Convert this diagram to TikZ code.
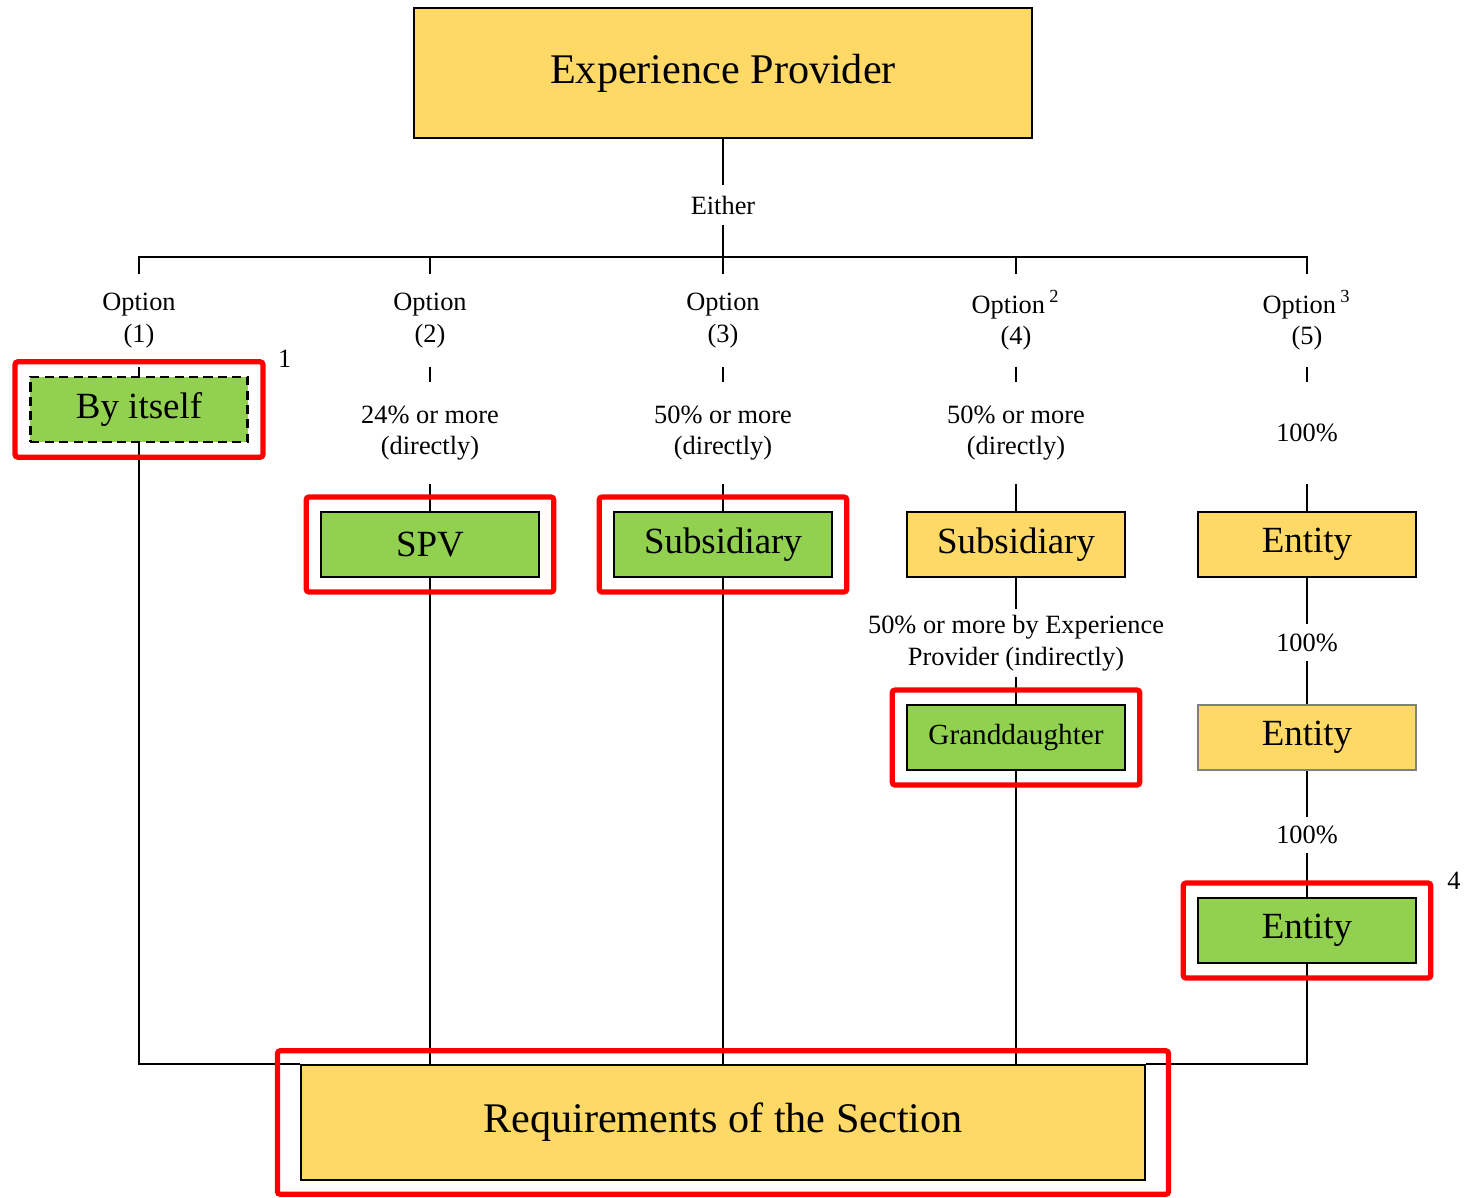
\documentclass[tikz,border=0pt]{standalone}
\usepackage{fontspec}
\setmainfont{Liberation Serif}
\usetikzlibrary{fit}
\definecolor{boxyellow}{RGB}{255,217,102}
\definecolor{boxgreen}{RGB}{146,208,80}
\tikzset{
  unit/.style={draw, line width=0.6pt, inner sep=0pt, minimum width=61.8pt, minimum height=18.4pt, font=\fontsize{10.5}{12}\selectfont},
  yel/.style={unit, fill=boxyellow},
  grn/.style={unit, fill=boxgreen},
  lbl/.style={inner sep=0pt, align=center, font=\fontsize{7.5}{9}\selectfont},
  hl/.style={draw=red, line width=1.5pt, rounded corners=0.8pt, inner sep=4pt},
  note/.style={inner sep=0pt, anchor=west, font=\fontsize{7.5}{9}\selectfont},
}
\begin{document}
\begin{tikzpicture}[x=0.01cm, y=-0.01cm, line width=0.5pt]
    \useasboundingbox (0,0) rectangle (1470,1197);
    % top
    \node[yel, minimum width=175.8pt, minimum height=36.9pt, font=\fontsize{12}{14}\selectfont] (ep) at (723,73) {Experience Provider};
    \node[lbl, minimum height=10.8pt] (either) at (723,205) {Either};
    \coordinate (bus) at (723,257);
    % options and shares
    \foreach \i/\x/\t in {1/139/{Option\\(1)},2/430/{Option\\(2)},3/723/{Option\\(3)},4/1016/{Option\,\textsuperscript{2}\\(4)},5/1307/{Option\,\textsuperscript{3}\\(5)}}{
        \node[lbl, minimum height=25.8pt] (o\i) at (\x,320.5) {\t};
    }
    \foreach \i/\x/\t in {2/430/{24\%\ or more\\(directly)},3/723/{50\%\ or more\\(directly)},4/1016/{50\%\ or more\\(directly)},5/1307/{100\%}}{
        \node[lbl, minimum height=28.6pt] (p\i) at (\x,433) {\t};
    }
    % boxes
    \node[grn, line width=0.7pt, dash pattern=on 2.6pt off 1.5pt] (self) at (139,409.5) {By itself};
    \node[grn] (spv) at (430,544.5) {SPV};
    \node[grn] (sub3) at (723,544.5) {Subsidiary};
    \node[yel] (sub4) at (1016,544.5) {Subsidiary};
    \node[yel] (ent1) at (1307,544.5) {Entity};
    \node[lbl, minimum height=19pt] (ind) at (1016,643) {50\%\ or more by Experience\\Provider (indirectly)};
    \node[grn, font=\fontsize{8.3}{10}\selectfont] (gd) at (1016,737.5) {Granddaughter};
    \node[lbl, minimum height=9.9pt] (q1) at (1307,642.5) {100\%};
    \node[yel, draw=gray] (ent2) at (1307,737.5) {Entity};
    \node[lbl, minimum height=9.6pt] (q2) at (1307,835) {100\%};
    \node[grn] (ent3) at (1307,930.5) {Entity};
    \node[yel, minimum width=239.8pt, minimum height=32.6pt, font=\fontsize{12}{14}\selectfont] (req) at (723,1122.5) {Requirements of the Section};
    % lines
    \draw (ep) -- (either);
    \draw (either) -- (bus);
    \draw (o1.north) -- (o1.north |- bus) -- (o5.north |- bus) -- (o5.north);
    \foreach \i in {2,3,4}{
        \draw (o\i.north) -- (o\i.north |- bus);
    }
    \draw (o1) -- (self);
    \foreach \i in {2,3,4,5}{
        \draw (o\i) -- (p\i);
    }
    \draw (p2) -- (spv);
    \draw (p3) -- (sub3);
    \draw (p4) -- (sub4);
    \draw (p5) -- (ent1);
    \draw (sub4) -- (ind);
    \draw (ind) -- (gd);
    \draw (ent1) -- (q1);
    \draw (q1) -- (ent2);
    \draw (ent2) -- (q2);
    \draw (q2) -- (ent3);
    \draw (self) |- (req.north west);
    \draw (ent3) |- (req.north east);
    \foreach \n in {spv,sub3,gd}{
        \draw (\n) -- (\n |- req.north);
    }
    % red frames
    \node[hl, fit=(self)] (h1) {};
    \node[hl, fit=(spv)] (h2) {};
    \node[hl, fit=(sub3)] (h3) {};
    \node[hl, fit=(gd)] (h4) {};
    \node[hl, fit=(ent3)] (h5) {};
    \node[hl, fit=(req), inner xsep=6.5pt, inner ysep=3.8pt] (h6) {};
    \node[note] (n1) at ([xshift=3.3pt]h1.north east) {1};
    \node[note] (n4) at ([xshift=3.7pt]h5.north east) {4};
\end{tikzpicture}
\end{document}
